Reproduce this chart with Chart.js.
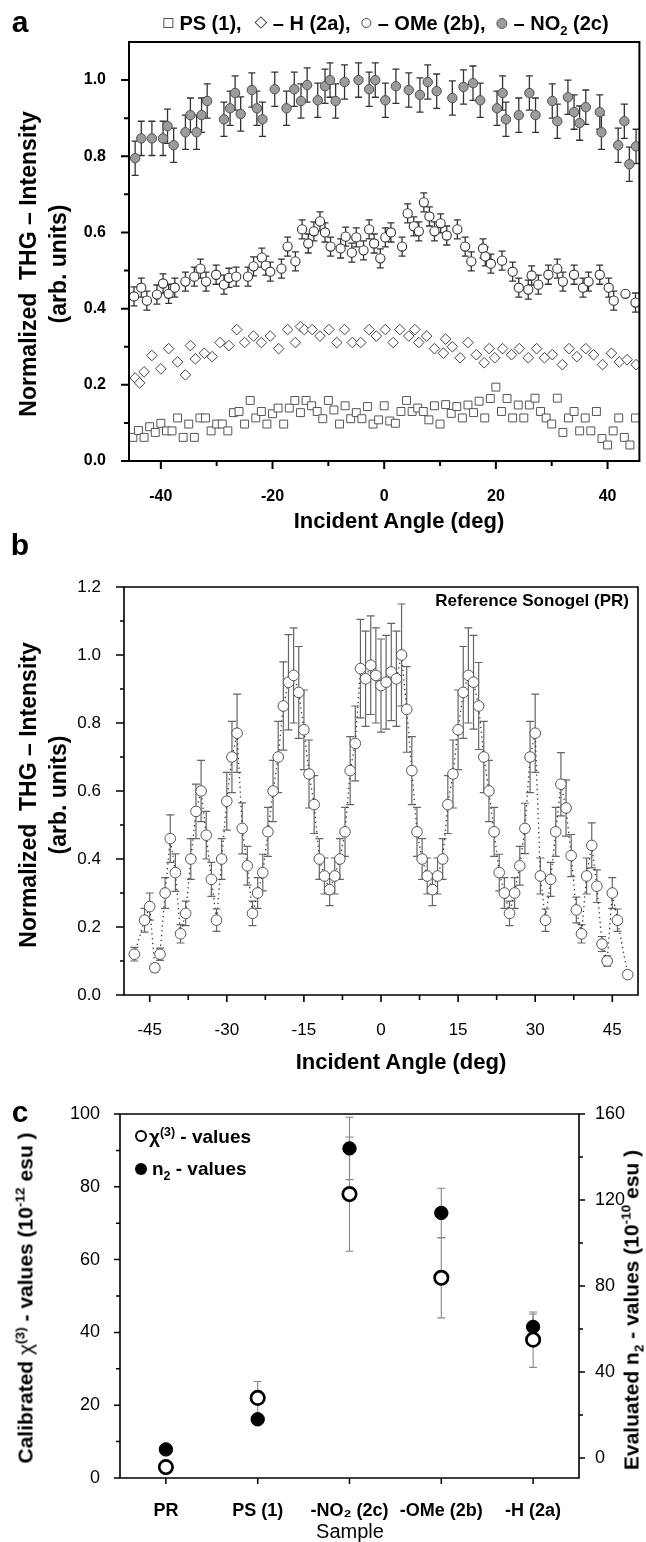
<!DOCTYPE html>
<html>
<head>
<meta charset="utf-8">
<script src="https://cdn.jsdelivr.net/npm/chart.js@4.4.1/dist/chart.umd.min.js"></script>
<style>
  body { margin: 0; background: #fff; }
  #wrap { position: relative; width: 646px; height: 1542px; overflow: hidden; font-family: "Liberation Sans", Arial, sans-serif; color: #000; }
  canvas { position: absolute; left: 0; }
  .t { position: absolute; white-space: nowrap; line-height: 1; }
  .b { font-weight: bold; }
  .ctr { transform: translate(-50%, -50%); }
  .rot { transform: translate(-50%, -50%) rotate(-90deg); text-align: center; }
  .sq { display: inline-block; width: 8px; height: 8px; border: 1px solid #555; margin-right: 6px; vertical-align: 2px; }
  .dm { display: inline-block; width: 7px; height: 7px; border: 1px solid #444; transform: rotate(45deg); margin: 0 7px 0 4px; vertical-align: 3px; }
  .oc { display: inline-block; width: 8px; height: 8px; border: 1px solid #444; border-radius: 50%; margin-right: 6px; vertical-align: 2px; }
  .gc { display: inline-block; width: 9px; height: 9px; border: 1px solid #555; background: #9c9c9c; border-radius: 50%; margin-right: 6px; vertical-align: 1px; }
  sub, sup { font-size: 65%; line-height: 0; }
</style>
</head>
<body>
<div id="wrap">
  <canvas id="chartA" width="646" height="545" style="top:0"></canvas>
  <canvas id="chartB" width="646" height="540" style="top:545px"></canvas>
  <canvas id="chartC" width="646" height="457" style="top:1085px"></canvas>

  <!-- panel a texts -->
  <div class="t b ctr" style="left:20px;top:22px;font-size:30px">a</div>
  <div class="t b ctr" style="left:386px;top:23px;font-size:20px">
    <span class="sq"></span>PS (1),&nbsp;&nbsp;<span class="dm"></span>– H (2a),&nbsp;&nbsp;<span class="oc"></span>– OMe (2b),&nbsp;&nbsp;<span class="gc"></span>– NO<sub>2</sub> (2c)
  </div>
  <div class="t b rot" style="left:43px;top:264px;font-size:23px;line-height:30px">Normalized&nbsp; THG – Intensity<br>(arb. units)</div>
  <div class="t b ctr" style="left:399px;top:521px;font-size:22px">Incident Angle (deg)</div>

  <!-- panel b texts -->
  <div class="t b ctr" style="left:20px;top:545px;font-size:30px">b</div>
  <div class="t b" style="right:17px;top:592px;font-size:17px">Reference Sonogel (PR)</div>
  <div class="t b rot" style="left:43px;top:795px;font-size:23px;line-height:30px">Normalized&nbsp; THG – Intensity<br>(arb. units)</div>
  <div class="t b ctr" style="left:401px;top:1062px;font-size:22px">Incident Angle (deg)</div>

  <!-- panel c texts -->
  <div class="t b ctr" style="left:20px;top:1112px;font-size:30px">c</div>
  <div class="t b" style="left:135px;top:1127px;font-size:19px"><span style="display:inline-block;width:8px;height:8px;border:2px solid #000;border-radius:50%;vertical-align:1px;margin-right:2px"></span>χ<sup>(3)</sup> - values</div>
  <div class="t b" style="left:135px;top:1159px;font-size:19px"><span style="display:inline-block;width:12px;height:12px;background:#000;border-radius:50%;vertical-align:0px;margin-right:5px"></span>n<sub>2</sub> - values</div>
  <div class="t b rot" style="left:25px;top:1298px;font-size:21px">Calibrated <span style="font-weight:normal">χ</span><sup>(3)</sup> - values (10<sup>-12</sup> esu )</div>
  <div class="t b rot" style="left:631px;top:1310px;font-size:21px">Evaluated n<sub>2</sub> - values (10<sup>-10</sup> esu )</div>
  <div class="t ctr" style="left:350px;top:1531px;font-size:20px">Sample</div>
</div>

<script>
// ---------------------------------------------------------------------------
// panel a : THG intensity vs incident angle, four films
const psAngle = [-45,-44,-43,-42,-41,-40,-39,-38,-37,-36,-35,-34,-33,-32,-31,-30,-29,-28,-27,-26,-25,-24,-23,-22,-21,-20,-19,-18,-17,-16,-15,-14,-13,-12,-11,-10,-9,-8,-7,-6,-5,-4,-3,-2,-1,0,1,2,3,4,5,6,7,8,9,10,11,12,13,14,15,16,17,18,19,20,21,22,23,24,25,26,27,28,29,30,31,32,33,34,35,36,37,38,39,40,41,42,43,44,45];
const psVal = [0.062,0.080,0.062,0.090,0.075,0.099,0.079,0.079,0.113,0.062,0.097,0.062,0.113,0.113,0.079,0.097,0.097,0.079,0.127,0.130,0.097,0.159,0.113,0.130,0.097,0.124,0.139,0.097,0.139,0.159,0.127,0.159,0.145,0.130,0.111,0.159,0.134,0.097,0.145,0.111,0.127,0.111,0.143,0.097,0.108,0.145,0.105,0.099,0.130,0.159,0.130,0.139,0.130,0.108,0.145,0.097,0.148,0.125,0.143,0.113,0.147,0.127,0.157,0.113,0.164,0.194,0.130,0.164,0.113,0.147,0.113,0.147,0.165,0.130,0.113,0.097,0.165,0.075,0.113,0.130,0.079,0.113,0.079,0.130,0.059,0.042,0.079,0.113,0.062,0.042,0.113];

const hAngle = [-44.6,-43.8,-43.0,-41.6,-40.0,-38.6,-37.0,-35.6,-34.7,-33.8,-32.2,-30.8,-29.4,-27.8,-26.4,-25.0,-23.4,-22.0,-20.4,-18.9,-17.3,-15.9,-15.0,-14.3,-12.9,-11.5,-9.9,-8.5,-7.1,-5.7,-4.2,-2.7,-1.4,0.2,1.6,2.8,4.4,5.5,6.2,7.6,9.0,10.6,11.0,12.2,13.6,15.0,16.5,17.9,18.8,19.8,21.2,22.8,24.2,25.8,27.3,28.7,30.1,31.9,33.1,34.5,36.1,37.5,39.1,40.7,42.1,43.5,45.1];
const hVal = [0.218,0.205,0.234,0.277,0.242,0.295,0.260,0.226,0.303,0.268,0.283,0.274,0.311,0.303,0.345,0.311,0.328,0.311,0.328,0.295,0.345,0.311,0.353,0.345,0.345,0.328,0.345,0.311,0.345,0.311,0.311,0.345,0.328,0.345,0.311,0.345,0.328,0.345,0.311,0.328,0.295,0.283,0.320,0.300,0.271,0.311,0.279,0.258,0.295,0.271,0.295,0.279,0.295,0.271,0.295,0.271,0.279,0.253,0.295,0.274,0.295,0.279,0.253,0.283,0.260,0.266,0.253];

const omeAngle = [-44.8,-43.5,-42.5,-40.7,-39.6,-38.6,-37.5,-35.6,-34.0,-32.9,-31.9,-30.1,-28.7,-27.8,-26.5,-24.4,-23.4,-21.9,-21.2,-20.4,-18.4,-17.3,-15.9,-14.7,-13.6,-12.6,-11.5,-10.6,-9.6,-7.8,-6.9,-5.8,-5.0,-3.7,-2.7,-1.8,-0.7,0.2,1.2,3.2,4.2,5.3,6.2,7.1,8.1,9.0,10.1,11.2,13.1,14.5,15.6,17.7,18.1,19.1,21.1,23.0,24.1,25.8,26.4,27.6,29.4,31.0,32.0,34.0,35.6,36.6,38.6,40.2,41.1,43.2,45.0];
const omeVal = [0.432,0.455,0.421,0.437,0.466,0.439,0.455,0.471,0.484,0.505,0.471,0.489,0.463,0.481,0.484,0.484,0.511,0.534,0.513,0.497,0.505,0.563,0.524,0.608,0.571,0.603,0.629,0.600,0.563,0.558,0.589,0.547,0.587,0.553,0.608,0.571,0.532,0.587,0.600,0.563,0.650,0.616,0.603,0.679,0.642,0.603,0.624,0.592,0.608,0.563,0.524,0.558,0.537,0.518,0.526,0.497,0.455,0.450,0.487,0.463,0.489,0.505,0.471,0.489,0.455,0.471,0.489,0.455,0.421,0.439,0.416];
const omeErr = 0.025;
const omeNoBar = [43.2];

const no2Angle = [-44.6,-43.5,-41.6,-39.6,-38.8,-37.7,-35.6,-34.7,-33.6,-32.7,-31.7,-28.7,-27.6,-26.7,-25.7,-23.7,-22.8,-21.8,-19.6,-17.5,-16.1,-14.9,-13.8,-11.9,-10.6,-9.7,-8.7,-7.1,-4.6,-2.7,-1.6,0.2,2.1,4.4,6.4,7.8,9.4,12.2,14.2,15.9,17.2,20.2,21.2,21.8,24.1,26.0,27.1,30.1,31.0,32.9,34.0,35.0,36.1,38.6,38.9,41.9,43.0,43.9,45.1];
const no2Val = [0.795,0.847,0.847,0.847,0.879,0.829,0.863,0.908,0.863,0.908,0.945,0.897,0.926,0.966,0.911,0.974,0.926,0.897,0.976,0.926,0.976,0.945,0.987,0.947,0.984,1.000,0.945,0.995,1.000,0.976,1.000,0.947,0.984,0.974,0.961,0.995,0.971,0.953,0.982,0.992,0.947,0.926,0.966,0.897,0.908,0.966,0.908,0.945,0.892,0.955,0.916,0.887,0.929,0.916,0.863,0.829,0.892,0.779,0.826];
const no2Err = 0.045;

const ticksAx = [-40, -20, 0, 20, 40];
const minorAx = [-30, -10, 10, 30];
const ticksAy = [0, 0.2, 0.4, 0.6, 0.8, 1.0];
const minorAy = [0.1, 0.3, 0.5, 0.7, 0.9];

// ---------------------------------------------------------------------------
// panel b : reference sonogel (PR)
const prAngle = [-48,-46,-45,-44,-43,-42,-41,-40,-39,-38,-37,-36,-35,-34,-33,-32,-31,-30,-29,-28,-27,-26,-25,-24,-23,-22,-21,-20,-19,-18,-17,-16,-15,-14,-13,-12,-11,-10,-9,-8,-7,-6,-5,-4,-3,-2,-1,0,1,2,3,4,5,6,7,8,9,10,11,12,13,14,15,16,17,18,19,20,21,22,23,24,25,26,27,28,29,30,31,32,33,34,35,36,37,38,39,40,41,42,43,44,45,46,48];
const prVal = [0.12,0.22,0.26,0.08,0.12,0.30,0.46,0.36,0.18,0.24,0.40,0.54,0.60,0.47,0.34,0.22,0.40,0.57,0.70,0.77,0.49,0.38,0.24,0.30,0.36,0.48,0.60,0.70,0.85,0.92,0.94,0.89,0.78,0.65,0.56,0.40,0.35,0.31,0.35,0.40,0.48,0.66,0.74,0.96,0.93,0.97,0.94,0.91,0.92,0.95,0.93,1.00,0.84,0.66,0.48,0.40,0.35,0.31,0.35,0.40,0.56,0.65,0.78,0.89,0.94,0.92,0.85,0.70,0.60,0.48,0.36,0.30,0.24,0.30,0.38,0.49,0.70,0.77,0.35,0.22,0.34,0.48,0.62,0.55,0.41,0.25,0.18,0.35,0.44,0.32,0.15,0.10,0.30,0.22,0.06];
const prErr = [0.02,0.035,0.04,0.012,0.018,0.045,0.07,0.055,0.027,0.036,0.06,0.08,0.09,0.07,0.05,0.033,0.06,0.085,0.105,0.115,0.075,0.057,0.036,0.045,0.054,0.072,0.09,0.105,0.13,0.14,0.14,0.135,0.117,0.10,0.085,0.06,0.053,0.047,0.053,0.06,0.072,0.10,0.11,0.145,0.14,0.145,0.14,0.137,0.138,0.143,0.14,0.15,0.126,0.10,0.072,0.06,0.053,0.047,0.053,0.06,0.085,0.10,0.117,0.135,0.14,0.138,0.128,0.105,0.09,0.072,0.054,0.045,0.036,0.045,0.057,0.074,0.105,0.115,0.053,0.033,0.05,0.072,0.093,0.083,0.062,0.038,0.027,0.053,0.066,0.048,0.022,0.015,0.045,0.033,0];

const ticksBx = [-45, -30, -15, 0, 15, 30, 45];
const minorBx = [-37.5, -22.5, -7.5, 7.5, 22.5, 37.5];
const ticksBy = [0, 0.2, 0.4, 0.6, 0.8, 1.0, 1.2];
const minorBy = [0.1, 0.3, 0.5, 0.7, 0.9, 1.1];

// ---------------------------------------------------------------------------
// panel c : chi(3) and n2 per sample
const samples = ['PR', 'PS (1)', '-NO\u2082 (2c)', '-OMe (2b)', '-H (2a)'];
const chi3 = [3, 22, 78, 55, 38];
const chi3Err = [1, 4.5, 15.7, 11, 7.6];
const n2 = [4, 18, 144, 114, 61];
const n2Err = [0, 0, 14.5, 11.5, 6];

const ticksCy = [0, 20, 40, 60, 80, 100];
const minorCy = [10, 30, 50, 70, 90];
const ticksCy2 = [0, 40, 80, 120, 160];
const minorCy2 = [20, 60, 100, 140];

// ---------------------------------------------------------------------------
const pts = (xs, ys) => xs.map((x, i) => ({ x: x, y: ys[i] }));
const fixBox = (w, h) => (s) => { if (w != null) s.width = w; if (h != null) s.height = h; };
const setTicks = (vals) => (s) => { s.ticks = vals.map(v => ({ value: v })); };
const tickFont = (size, bold) => ({ family: 'Liberation Sans', size: size, weight: bold ? 'bold' : 'normal' });

// frame, minor/major tick marks and error bars, all through the chart scales
function deco(cfg) {
  return {
    id: 'deco',
    beforeDatasetsDraw(chart) {
      const ctx = chart.ctx;
      (cfg.bars || []).forEach(eb => {
        const meta = chart.getDatasetMeta(eb.ds);
        const ys = chart.scales[meta.yAxisID];
        const data = chart.data.datasets[eb.ds].data;
        ctx.save();
        ctx.strokeStyle = eb.color;
        ctx.lineWidth = eb.width;
        ctx.beginPath();
        data.forEach((p, i) => {
          const e = eb.err(i, p);
          if (!e) return;
          const px = meta.data[i].x;
          const y1 = ys.getPixelForValue(p.y + e);
          const y2 = ys.getPixelForValue(p.y - e);
          ctx.moveTo(px, y1); ctx.lineTo(px, y2);
          ctx.moveTo(px - eb.cap, y1); ctx.lineTo(px + eb.cap, y1);
          ctx.moveTo(px - eb.cap, y2); ctx.lineTo(px + eb.cap, y2);
        });
        ctx.stroke();
        ctx.restore();
      });
    },
    afterDraw(chart) {
      const ctx = chart.ctx, a = chart.chartArea;
      ctx.save();
      ctx.strokeStyle = '#000';
      ctx.lineWidth = cfg.lineWidth;
      ctx.beginPath();
      ctx.rect(a.left, a.top, a.right - a.left, a.bottom - a.top);
      ctx.stroke();
      ctx.lineWidth = cfg.tickWidth;
      ctx.beginPath();
      cfg.ticks.forEach(t => {
        const sc = chart.scales[t.axis];
        t.values.forEach(v => {
          const p = sc.getPixelForValue(v);
          if (sc.isHorizontal()) {
            ctx.moveTo(p, a.bottom); ctx.lineTo(p, a.bottom + t.len);
          } else if (sc.position === 'left') {
            ctx.moveTo(a.left, p); ctx.lineTo(a.left - t.len, p);
          } else {
            ctx.moveTo(a.right, p); ctx.lineTo(a.right + t.len, p);
          }
        });
      });
      ctx.stroke();
      ctx.restore();
    }
  };
}

const baseOpts = {
  responsive: false,
  animation: false,
  events: [],
  plugins: { legend: { display: false }, tooltip: { enabled: false } }
};

// ------------------------------------------------------------------ panel a
new Chart(document.getElementById('chartA'), {
  type: 'scatter',
  data: {
    datasets: [
      { data: pts(no2Angle, no2Val), pointStyle: 'circle', pointRadius: 4.7, backgroundColor: '#9c9c9c', borderColor: '#505050', borderWidth: 1 },
      { data: pts(omeAngle, omeVal), pointStyle: 'circle', pointRadius: 4.6, backgroundColor: '#fff', borderColor: '#333', borderWidth: 1.1 },
      { data: pts(hAngle, hVal), pointStyle: 'rectRot', pointRadius: 5.3, backgroundColor: '#fff', borderColor: '#444', borderWidth: 1 },
      { data: pts(psAngle, psVal), pointStyle: 'rect', pointRadius: 5.6, backgroundColor: '#fff', borderColor: '#555', borderWidth: 1 }
    ]
  },
  options: Object.assign({}, baseOpts, {
    layout: { padding: { top: 42, right: 1, left: 0, bottom: 0 } },
    scales: {
      x: {
        type: 'linear', min: -45.7, max: 45.7,
        grid: { display: false }, border: { display: false },
        afterBuildTicks: setTicks(ticksAx), afterFit: fixBox(null, 84),
        ticks: { padding: 18, color: '#000', font: tickFont(16, true), callback: v => String(v) }
      },
      y: {
        min: 0, max: 1.1,
        grid: { display: false }, border: { display: false },
        afterBuildTicks: setTicks(ticksAy), afterFit: fixBox(129, null),
        ticks: { padding: 15, color: '#000', font: tickFont(16, true), callback: v => v.toFixed(1) }
      }
    }
  }),
  plugins: [deco({
    lineWidth: 2, tickWidth: 2,
    ticks: [
      { axis: 'x', values: ticksAx, len: 8 }, { axis: 'x', values: minorAx, len: 5 },
      { axis: 'y', values: ticksAy, len: 8 }, { axis: 'y', values: minorAy, len: 5 }
    ],
    bars: [
      { ds: 0, err: () => no2Err, color: '#333', width: 1.3, cap: 3.5 },
      { ds: 1, err: (i, p) => (omeNoBar.includes(p.x) ? 0 : omeErr), color: '#333', width: 1.3, cap: 3.5 }
    ]
  })]
});

// ------------------------------------------------------------------ panel b
new Chart(document.getElementById('chartB'), {
  type: 'scatter',
  data: {
    datasets: [
      {
        data: pts(prAngle, prVal), showLine: true,
        borderColor: '#333', borderWidth: 1.3, borderDash: [1.3, 3.5],
        pointStyle: 'circle', pointRadius: 5.3, pointBackgroundColor: '#fff', pointBorderColor: '#555', pointBorderWidth: 1
      }
    ]
  },
  options: Object.assign({}, baseOpts, {
    layout: { padding: { top: 42, right: 8, left: 0, bottom: 0 } },
    scales: {
      x: {
        type: 'linear', min: -50, max: 50,
        grid: { display: false }, border: { display: false },
        afterBuildTicks: setTicks(ticksBx), afterFit: fixBox(null, 90),
        ticks: { padding: 17, color: '#000', font: tickFont(17, false), callback: v => String(v) }
      },
      y: {
        min: 0, max: 1.2,
        grid: { display: false }, border: { display: false },
        afterBuildTicks: setTicks(ticksBy), afterFit: fixBox(124, null),
        ticks: { padding: 15, color: '#000', font: tickFont(17, false), callback: v => v.toFixed(1) }
      }
    }
  }),
  plugins: [deco({
    lineWidth: 1.6, tickWidth: 1.6,
    ticks: [
      { axis: 'x', values: ticksBx, len: 7 }, { axis: 'x', values: minorBx, len: 5 },
      { axis: 'y', values: ticksBy, len: 8 }, { axis: 'y', values: minorBy, len: 4 }
    ],
    bars: [
      { ds: 0, err: (i) => prErr[i], color: '#666', width: 1.2, cap: 4 }
    ]
  })]
});

// ------------------------------------------------------------------ panel c
new Chart(document.getElementById('chartC'), {
  type: 'scatter',
  data: {
    datasets: [
      { data: samples.map((s, i) => ({ x: i + 1, y: chi3[i] })), yAxisID: 'y', pointStyle: 'circle', pointRadius: 6.7, backgroundColor: '#fff', borderColor: '#000', borderWidth: 2.7 },
      { data: samples.map((s, i) => ({ x: i + 1, y: n2[i] })), yAxisID: 'y2', pointStyle: 'circle', pointRadius: 6.7, backgroundColor: '#000', borderColor: '#000', borderWidth: 1 }
    ]
  },
  options: Object.assign({}, baseOpts, {
    layout: { padding: { top: 29, right: 0, left: 0, bottom: 0 } },
    scales: {
      x: {
        type: 'linear', min: 0.5, max: 5.5,
        grid: { display: false }, border: { display: false },
        afterBuildTicks: setTicks([1, 2, 3, 4, 5]), afterFit: fixBox(null, 64),
        ticks: { padding: 14, color: '#000', font: tickFont(18, true), callback: v => samples[v - 1] }
      },
      y: {
        position: 'left', min: 0, max: 100,
        grid: { display: false }, border: { display: false },
        afterBuildTicks: setTicks(ticksCy), afterFit: fixBox(120, null),
        ticks: { padding: 12, color: '#000', font: tickFont(18, false) }
      },
      y2: {
        position: 'right', min: -9.3, max: 160,
        grid: { display: false }, border: { display: false },
        afterBuildTicks: setTicks(ticksCy2), afterFit: fixBox(67, null),
        ticks: { padding: 8, color: '#000', font: tickFont(18, false) }
      }
    }
  }),
  plugins: [deco({
    lineWidth: 1.6, tickWidth: 1.5,
    ticks: [
      { axis: 'x', values: [1, 2, 3, 4, 5], len: 6 },
      { axis: 'y', values: ticksCy, len: 6 }, { axis: 'y', values: minorCy, len: 4 },
      { axis: 'y2', values: ticksCy2, len: 6 }, { axis: 'y2', values: minorCy2, len: 4 }
    ],
    bars: [
      { ds: 0, err: (i) => chi3Err[i], color: '#888', width: 1.1, cap: 4 },
      { ds: 1, err: (i) => n2Err[i], color: '#888', width: 1.1, cap: 4 }
    ]
  })]
});
</script>
</body>
</html>
